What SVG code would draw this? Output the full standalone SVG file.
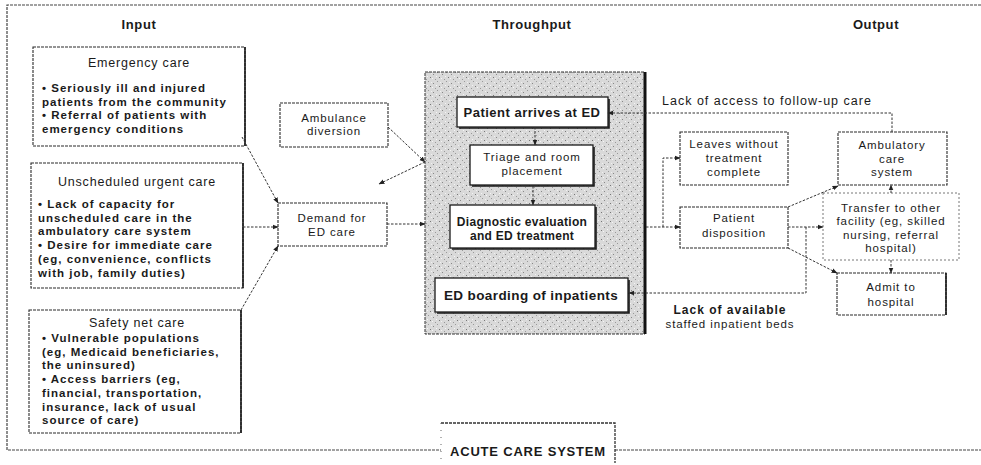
<svg xmlns="http://www.w3.org/2000/svg" width="981" height="465" viewBox="0 0 981 465">
<style>
text{font-family:"Liberation Sans",Arial,sans-serif;fill:#1a1a1a;font-size:11.5px;font-weight:bold;letter-spacing:1px}
.c{text-anchor:middle}
.t{font-weight:normal;letter-spacing:0.9px}
.ti{font-size:12.5px;font-weight:normal;letter-spacing:0.8px}
.h{font-size:13px;letter-spacing:0.6px}
.box{fill:#fff;stroke:#2a2a2a;stroke-width:1.1;stroke-dasharray:3 1}
.edge{stroke:#1a1a1a;stroke-width:1.6;fill:none}
.inner{fill:#fff;stroke:#1a1a1a;stroke-width:1.3}
.conn{fill:none;stroke:#333;stroke-width:1;stroke-dasharray:2.5 1.5}
.frame{fill:none;stroke:#444;stroke-width:1.2;stroke-dasharray:3 1}
</style>
<defs>
<marker id="ah" viewBox="0 0 10 10" refX="9" refY="5" markerWidth="6" markerHeight="6" orient="auto">
<path d="M0,1 L10,5 L0,9 z" fill="#222"/>
</marker>
<pattern id="stip" width="9" height="9" patternUnits="userSpaceOnUse">
<rect width="9" height="9" fill="#d9d9d9"/>
<rect x="1" y="2" width="1" height="1" fill="#888"/>
<rect x="5" y="0" width="1" height="1" fill="#999"/>
<rect x="7" y="5" width="1" height="1" fill="#777"/>
<rect x="3" y="7" width="1" height="1" fill="#999"/>
<rect x="4" y="4" width="1" height="1" fill="#f4f4f4"/>
<rect x="0" y="6" width="1" height="1" fill="#f4f4f4"/>
<rect x="8" y="1" width="1" height="1" fill="#f0f0f0"/>
</pattern>
</defs>

<g id="frame">
<path class="frame" d="M981,5 H7 V450 H441 M615,450 H981"/>
<path d="M441,423 H615 V463" fill="none" stroke="#333" stroke-width="1.3" stroke-dasharray="3 1"/>
<path d="M441,423 V463" fill="none" stroke="#666" stroke-width="1" stroke-dasharray="1 6"/>
<text class="c" x="528" y="456" style="font-size:13px;letter-spacing:0.8px">ACUTE CARE SYSTEM</text>
</g>

<g id="headers">
<text class="c h" x="139" y="29">Input</text>
<text class="c h" x="532" y="29">Throughput</text>
<text class="c h" x="876" y="29">Output</text>
</g>

<g id="emergency">
<rect class="box" x="33" y="47" width="212" height="99"/>
<path class="edge" d="M245,47 V146"/>
<text class="c ti" x="139" y="67">Emergency care</text>
<text x="42" y="92">• Seriously ill and injured</text>
<text x="42" y="105.5">patients from the community</text>
<text x="42" y="119">• Referral of patients with</text>
<text x="42" y="132.5">emergency conditions</text>
</g>

<g id="unscheduled">
<rect class="box" x="31" y="163" width="212" height="125"/>
<path class="edge" d="M243,163 V288"/>
<text class="c ti" x="137" y="186">Unscheduled urgent care</text>
<text x="38" y="208">• Lack of capacity for</text>
<text x="38" y="221.5">unscheduled care in the</text>
<text x="38" y="235">ambulatory care system</text>
<text x="38" y="249">• Desire for immediate care</text>
<text x="38" y="263">(eg, convenience, conflicts</text>
<text x="38" y="277">with job, family duties)</text>
</g>

<g id="safety">
<rect class="box" x="29" y="310" width="212" height="123"/>
<path class="edge" d="M241,310 V433"/>
<text class="c ti" x="137" y="327">Safety net care</text>
<text x="42" y="342">• Vulnerable populations</text>
<text x="42" y="355.7">(eg, Medicaid beneficiaries,</text>
<text x="42" y="369.4">the uninsured)</text>
<text x="42" y="383.1">• Access barriers (eg,</text>
<text x="42" y="396.8">financial, transportation,</text>
<text x="42" y="410.5">insurance, lack of usual</text>
<text x="42" y="424.2">source of care)</text>
</g>

<g id="ambulance">
<rect class="box" x="280" y="103" width="108" height="44"/>
<text class="c t" x="334" y="122">Ambulance</text>
<text class="c t" x="334" y="135">diversion</text>
</g>

<g id="demand">
<rect class="box" x="278" y="203" width="109" height="43"/>
<text class="c t" x="332" y="222">Demand for</text>
<text class="c t" x="332" y="236">ED care</text>
</g>

<g id="throughput">
<rect x="425" y="72" width="220" height="262" fill="url(#stip)" stroke="#333" stroke-width="1" stroke-dasharray="3 1"/>
<path d="M645,72 V334" stroke="#111" stroke-width="3"/>
</g>

<g id="arrives">
<rect class="inner" x="457" y="97" width="151" height="30"/>
<path class="edge" d="M459,128 H609 V99"/>
<text class="c" x="532" y="117" style="font-size:13px;letter-spacing:0.5px">Patient arrives at ED</text>
</g>

<g id="triage">
<rect class="inner" x="470" y="145" width="123" height="40"/>
<path class="edge" d="M472,186 H594 V147"/>
<text class="c t" x="532" y="161">Triage and room</text>
<text class="c t" x="532" y="175">placement</text>
</g>

<g id="diagnostic">
<rect class="inner" x="450" y="205" width="145" height="43"/>
<path class="edge" d="M452,249 H596 V207"/>
<text class="c" x="522" y="226" style="font-size:12px;letter-spacing:0.3px">Diagnostic evaluation</text>
<text class="c" x="522" y="240" style="font-size:12px;letter-spacing:0.3px">and ED treatment</text>
</g>

<g id="boarding">
<rect class="inner" x="435" y="278" width="193" height="34"/>
<path class="edge" d="M437,313 H629 V280"/>
<text class="c" x="531" y="300" style="font-size:13.5px;letter-spacing:0.4px">ED boarding of inpatients</text>
</g>

<g id="leaves">
<rect class="box" x="680" y="132" width="108" height="53"/>
<text class="c t" x="734" y="148">Leaves without</text>
<text class="c t" x="734" y="162">treatment</text>
<text class="c t" x="734" y="175.5">complete</text>
</g>

<g id="disposition">
<rect class="box" x="680" y="207" width="108" height="41"/>
<text class="c t" x="734" y="222">Patient</text>
<text class="c t" x="734" y="237">disposition</text>
</g>

<g id="ambulatory">
<rect class="box" x="838" y="132" width="109" height="53"/>
<text class="c t" x="892" y="149">Ambulatory</text>
<text class="c t" x="892" y="162.5">care</text>
<text class="c t" x="892" y="176">system</text>
</g>

<g id="transfer">
<rect x="823" y="193" width="136" height="67" fill="#fff" stroke="#777" stroke-width="1" stroke-dasharray="2 2"/>
<text class="c t" x="891" y="211.5">Transfer to other</text>
<text class="c t" x="891" y="225">facility (eg, skilled</text>
<text class="c t" x="891" y="238.5">nursing, referral</text>
<text class="c t" x="891" y="252">hospital)</text>
</g>

<g id="admit">
<rect class="box" x="837" y="273" width="109" height="42"/>
<path class="edge" d="M946,273 V315"/>
<text class="c t" x="891" y="291">Admit to</text>
<text class="c t" x="891" y="306">hospital</text>
</g>

<g id="labels">
<text x="662" y="105" class="t" style="font-size:12.5px;letter-spacing:1px">Lack of access to follow-up care</text>
<text class="c" x="730" y="314" style="font-size:12px">Lack of available</text>
<text class="c t" x="730" y="328">staffed inpatient beds</text>
</g>

<g id="connectors">
<path class="conn" d="M242,137 L278,203" marker-end="url(#ah)"/>
<path class="conn" d="M243,227 H278" marker-end="url(#ah)"/>
<path class="conn" d="M241,310 L278,246" marker-end="url(#ah)"/>
<path class="conn" d="M388,127 L425,162" marker-end="url(#ah)"/>
<path class="conn" d="M425,162 L379,184" marker-end="url(#ah)"/>
<path class="conn" d="M387,224 H425" marker-end="url(#ah)"/>
<path class="conn" d="M535,127 V145" marker-end="url(#ah)"/>
<path class="conn" d="M533,186 V205" marker-end="url(#ah)"/>
<path class="conn" d="M646,227 H680" marker-end="url(#ah)"/>
<path class="conn" d="M663,227 V158 H680" marker-end="url(#ah)"/>
<path class="conn" d="M788,207 L838,186" marker-end="url(#ah)"/>
<path class="conn" d="M788,227 H823" marker-end="url(#ah)"/>
<path class="conn" d="M788,248 L837,273" marker-end="url(#ah)"/>
<path class="conn" d="M891,193 V185" marker-end="url(#ah)"/>
<path class="conn" d="M891,260 V273" marker-end="url(#ah)"/>
<path class="conn" d="M892,132 V113 H608" marker-end="url(#ah)"/>
<path class="conn" d="M806,227 V293 H629" marker-end="url(#ah)"/>
</g>
</svg>
